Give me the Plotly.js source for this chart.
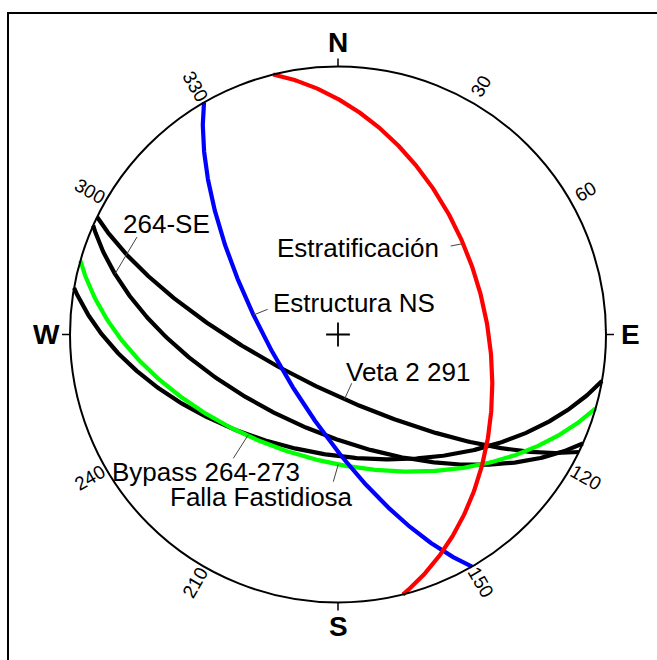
<!DOCTYPE html>
<html><head><meta charset="utf-8">
<script src="https://cdn.plot.ly/plotly-3.0.1.min.js"></script>
<style>html,body{margin:0;padding:0;background:#fff}</style>
</head><body><div id="chart" style="width:657px;height:660px"></div>
<script>
// ---- data: planes (strike by right-hand rule, dip) ----
const planeNames = ["Veta 2 291", "264-SE", "Bypass 264-273", "Falla Fastidiosa", "Estructura NS", "Estratificación"];
const strikes    = [116, 114, 100, 106, 150, 346];
const dips       = [73, 60, 53, 51, 70, 44];
const planeColors = ["#000000", "#000000", "#000000", "#00ff00", "#0000ff", "#ff0000"];

// ---- tick labels ----
const tickAz     = [30, 60, 120, 150, 210, 240, 300, 330];
const tickLabels = ["30", "60", "120", "150", "210", "240", "300", "330"];
const cardAz     = [0, 90, 180, 270];
const cardLabels = ["N", "E", "S", "W"];

// ---- layout-only settings ----
const W = 657, H = 660, CX = 338, CY = 334.5, R = 268;
const FONT = "Liberation Sans, Arial, Helvetica, sans-serif";
// label centre (px), leader start (px), azimuth of the leader tip on its plane
const labelLayout = [
  {c: [408, 372],   s: [351.7, 383.3], tipAz: 174.3},
  {c: [166.7, 224], s: [137, 237],     tipAz: 285.2},
  {c: [205.7, 472], s: [233.3, 458.3], tipAz: 221.8},
  {c: [261, 497],   s: [333.3, 481.7], tipAz: 179.9},
  {c: [354, 303],   s: [267.7, 309.3], tipAz: 283},
  {c: [357.6, 248], s: [450.7, 246],   tipAz: 54}
];

const d2r = Math.PI / 180;
const px = (x) => (x - CX) / R;
const py = (y) => (CY - y) / R;

// Lambert equal-area (Schmidt) lower hemisphere projection
function project(az, pl) {
  const r = Math.SQRT2 * Math.sin((90 - pl) / 2 * d2r);
  return [r * Math.sin(az * d2r), r * Math.cos(az * d2r)];
}
function greatCircle(st, d) {
  const dd = st + 90;
  const s = [Math.sin(st * d2r), Math.cos(st * d2r), 0];
  const v = [Math.sin(dd * d2r) * Math.cos(d * d2r), Math.cos(dd * d2r) * Math.cos(d * d2r), Math.sin(d * d2r)];
  const xs = [], ys = [];
  for (let t = 0; t <= 180.001; t += 0.5) {
    const c = Math.cos(t * d2r), sn = Math.sin(t * d2r);
    const e = c * s[0] + sn * v[0], n = c * s[1] + sn * v[1], z = Math.min(1, c * s[2] + sn * v[2]);
    const pl = Math.asin(z) / d2r;
    const az = Math.atan2(e, n) / d2r;
    const p = project(az, pl);
    xs.push(p[0]); ys.push(p[1]);
  }
  return {xs, ys};
}
function pointOnPlane(st, d, az) {
  const pl = Math.atan(Math.tan(d * d2r) * Math.sin((az - st) * d2r)) / d2r;
  return project(az, pl);
}

const traces = planeNames.map((name, i) => {
  const g = greatCircle(strikes[i], dips[i]);
  return {x: g.xs, y: g.ys, type: "scatter", mode: "lines", name: name,
          line: {color: planeColors[i], width: 4.2}, hoverinfo: "name"};
});
traces.push({x: [0], y: [0], type: "scatter", mode: "markers",
  marker: {symbol: "cross-thin", size: 17, line: {width: 1.8, color: "#000"}}, hoverinfo: "skip"});

const shapes = [
  {type: "rect", xref: "paper", yref: "paper", x0: 8 / W, x1: 1.05, y0: -0.05, y1: 1 - 13 / H,
   line: {color: "#000", width: 2}},
  {type: "circle", xref: "x", yref: "y", x0: -1, x1: 1, y0: -1, y1: 1, line: {color: "#000", width: 2}}
];
cardAz.forEach(a => {
  const r1 = 1, r2 = 1 + 8 / R;
  shapes.push({type: "line", xref: "x", yref: "y",
    x0: r1 * Math.sin(a * d2r), y0: r1 * Math.cos(a * d2r),
    x1: r2 * Math.sin(a * d2r), y1: r2 * Math.cos(a * d2r), line: {color: "#000", width: 1.5}});
});

const annotations = [];
tickAz.forEach((a, i) => {
  const rr = 286 / R;
  const ang = a < 180 ? a - 90 : a - 270;
  annotations.push({x: rr * Math.sin(a * d2r), y: rr * Math.cos(a * d2r), xref: "x", yref: "y",
    text: tickLabels[i], showarrow: false, textangle: ang, xanchor: "center", yanchor: "middle",
    font: {family: FONT, size: 19, color: "#000"}});
});
cardAz.forEach((a, i) => {
  const rr = 292 / R;
  annotations.push({x: rr * Math.sin(a * d2r), y: rr * Math.cos(a * d2r), xref: "x", yref: "y",
    text: "<b>" + cardLabels[i] + "</b>", showarrow: false, xanchor: "center", yanchor: "middle",
    font: {family: FONT, size: 28, color: "#000"}});
});
planeNames.forEach((name, i) => {
  const L = labelLayout[i];
  annotations.push({x: px(L.c[0]), y: py(L.c[1]), xref: "x", yref: "y", text: name, showarrow: false,
    xanchor: "center", yanchor: "middle", font: {family: FONT, size: 26, color: "#000"}});
  const tip = pointOnPlane(strikes[i], dips[i], L.tipAz);
  shapes.push({type: "line", xref: "x", yref: "y", x0: px(L.s[0]), y0: py(L.s[1]), x1: tip[0], y1: tip[1],
    line: {color: "#444", width: 1}});
});

const layout = {
  width: W, height: H, margin: {l: 0, r: 0, t: 0, b: 0},
  paper_bgcolor: "#fff", plot_bgcolor: "#fff", showlegend: false,
  xaxis: {range: [-CX / R, (W - CX) / R], visible: false, fixedrange: true},
  yaxis: {range: [-(H - CY) / R, CY / R], visible: false, fixedrange: true},
  shapes: shapes, annotations: annotations
};
Plotly.newPlot("chart", traces, layout, {displayModeBar: false, staticPlot: true});
</script>
</body></html>
